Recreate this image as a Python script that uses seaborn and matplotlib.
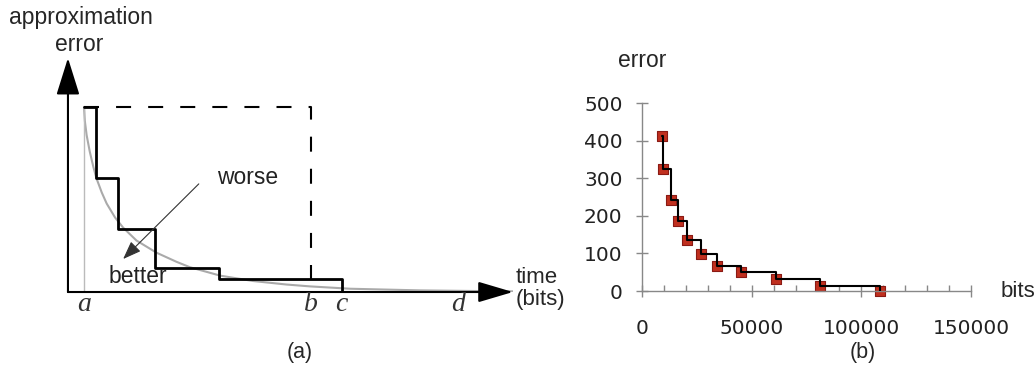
import numpy as np
import matplotlib
matplotlib.use('Agg')
import matplotlib.pyplot as plt
import seaborn as sns

# (a) schematic, abstract units: time 0..100, error 0..100
curve_t = [3.6, 3.8, 4.2, 4.9, 5.7, 6.4, 7.6, 8.7, 10.6, 12.4, 15.4, 19.9, 24.4, 27.4,
           34.2, 41.6, 49.1, 54.4, 63.4, 79.1, 92.6, 100]
curve_e = [79.1, 73.0, 67.0, 60.0, 53.5, 48.6, 42.5, 37.8, 31.8, 27.5, 22.0, 16.8, 12.9, 10.6,
           7.0, 4.7, 3.2, 2.4, 1.4, 0.7, 0.4, 0.3]
step_t = [3.6, 6.4, 11.2, 19.6, 33.9, 61.5]
step_e = [79.1, 48.7, 26.9, 10.3, 5.6, 0.0]
marks = ['a', 'b', 'c', 'd']
mark_t = [3.6, 54.6, 61.5, 87.6]

# (b) measured error vs bits
bits = [9100, 9600, 13100, 16300, 20500, 26800, 34200, 45200, 61100, 81200, 108600]
err = [411, 324, 242, 187, 136, 99, 67, 50, 31, 13, 0]

sns.set_style('white')
plt.rcParams['font.family'] = ['Liberation Sans', 'DejaVu Sans']

fig = plt.figure(figsize=(10.36, 3.68), dpi=100)

# ---- panel (a)
ax = fig.add_axes([0.0656, 0.2065, 0.4295, 0.6359])
ax.set_xlim(0, 100)
ax.set_ylim(0, 100)
ax.axis('off')

sns.lineplot(x=curve_t, y=curve_e, ax=ax, color='#aaaaaa', lw=1.5, sort=False)
ax.plot([step_t[0], step_t[0]], [0, step_e[0]], color='#bbbbbb', lw=1)
ax.plot([step_t[0], mark_t[1], mark_t[1]], [step_e[0], step_e[0], 0],
        color='black', lw=1.5, linestyle=(0, (7.2, 8.2)))
sns.lineplot(x=step_t, y=step_e, ax=ax, color='black', lw=2,
             drawstyle='steps-post', sort=False)

# axes arrows
ax.annotate('', xy=(0, 100), xytext=(0, 0),
            arrowprops=dict(arrowstyle='-|>,head_length=1.15,head_width=0.36',
                            mutation_scale=20, color='black', lw=1.5,
                            shrinkA=0, shrinkB=0))
ax.annotate('', xy=(100, 0), xytext=(0, 0),
            arrowprops=dict(arrowstyle='-|>,head_length=1.08,head_width=0.32',
                            mutation_scale=20, color='black', lw=1.5,
                            shrinkA=0, shrinkB=0))
# worse -> better
ax.annotate('', xy=(12.4, 14.1), xytext=(29.4, 46.2),
            arrowprops=dict(arrowstyle='-|>,head_length=0.8,head_width=0.3',
                            mutation_scale=14, color='#333333', lw=0.8,
                            shrinkA=0, shrinkB=0))

ax.text(2.9, 117.1, 'approximation', ha='center', va='center', fontsize=16.5)
ax.text(2.5, 105.6, 'error', ha='center', va='center', fontsize=16.5)
ax.text(40.4, 49.1, 'worse', ha='center', va='center', fontsize=16.5, color='#222222')
ax.text(15.7, 6.8, 'better', ha='center', va='center', fontsize=16.5, color='#222222')
ax.text(100.7, 6.4, 'time', ha='left', va='center', fontsize=16)
ax.text(100.7, -3.4, '(bits)', ha='left', va='center', fontsize=16)
for m, t in zip(marks, mark_t):
    ax.text(t, -5.5, m, ha='center', va='center', fontsize=20,
            family='Liberation Serif', style='italic', color='#333333')

# ---- panel (b)
bx = fig.add_axes([0.6197, 0.2092, 0.3176, 0.5109])
sns.lineplot(x=bits, y=err, ax=bx, color='black', lw=1.5,
             drawstyle='steps-post', sort=False, zorder=3)
sns.scatterplot(x=bits, y=err, ax=bx, marker='s', s=60, color='#c0301f',
                edgecolor='#8a1a14', linewidth=0.8, clip_on=False, zorder=2)
bx.set_xlim(0, 150000)
bx.set_ylim(0, 500)
sns.despine(ax=bx)
for side in ['left', 'bottom']:
    bx.spines[side].set_color('#888888')
    bx.spines[side].set_linewidth(1)
bx.set_xticks(np.arange(0, 150001, 50000))
bx.set_xticks(np.arange(0, 150001, 10000), minor=True)
bx.set_yticks(np.arange(0, 501, 100))
bx.tick_params(axis='x', which='major', bottom=True, direction='inout', length=9,
               width=1, color='#888888', pad=16)
bx.tick_params(axis='x', which='minor', bottom=True, direction='in', length=4,
               width=1, color='#888888')
bx.tick_params(axis='y', which='major', left=True, direction='inout', length=8,
               width=1, color='#888888', pad=10)
bx.tick_params(axis='both', labelsize=14.5, labelcolor='#222222')
for lab in bx.get_xticklabels() + bx.get_yticklabels():
    lab.set_family('DejaVu Sans')
bx.set_xlabel('')
bx.set_ylabel('')
bx.text(0, 613, 'error', ha='center', va='center', fontsize=16.5)
bx.text(163300, 0, 'bits', ha='left', va='center', fontsize=16)

fig.text(0.2896, 0.043, '(a)', ha='center', va='center', fontsize=15.5)
fig.text(0.833, 0.043, '(b)', ha='center', va='center', fontsize=15.5)

fig.savefig('out.png', dpi=100)
